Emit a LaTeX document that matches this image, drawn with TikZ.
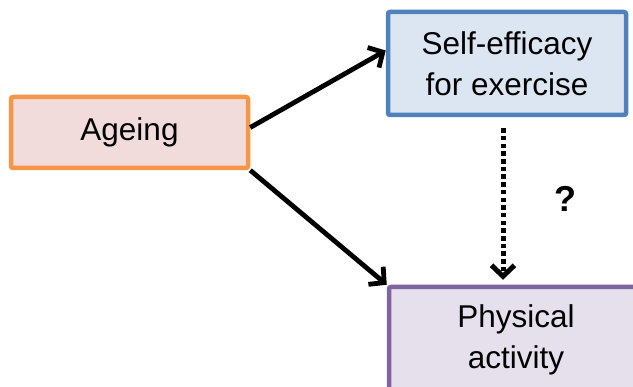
\documentclass[tikz,border=0pt]{standalone}
\usepackage{fontspec}
\setmainfont{Liberation Sans}
\usetikzlibrary{arrows.meta,calc}
\definecolor{agefill}{HTML}{F2DCDB}
\definecolor{ageline}{HTML}{F79646}
\definecolor{sefill}{HTML}{DCE6F2}
\definecolor{seline}{HTML}{4F81BD}
\definecolor{pafill}{HTML}{E5E0EC}
\definecolor{paline}{HTML}{8064A2}
\begin{document}
\begin{tikzpicture}[x=1pt,y=-1pt,
  box/.style={draw, line width=4.5pt, rounded corners=2pt, align=center,
    font=\fontsize{31.5}{41}\selectfont, inner sep=0pt},
  link/.style={line width=4.8pt, -{Straight Barb[length=11pt,width=23pt]}},
  dotlink/.style={link, line width=5pt, line cap=butt, dash pattern=on 4.5pt off 3.2pt},
]
\clip (0,0) rectangle (633,387);
\fill[white] (0,0) rectangle (633,387);

% the three factors
\node[box, fill=agefill, draw=ageline, minimum width=237pt, minimum height=71pt]
  (age) at (129.5,132.5) {Ageing};
\node[box, fill=sefill, draw=seline, minimum width=238pt, minimum height=103pt]
  (se) at (507,63.5) {Self-efficacy\\for exercise};
\node[box, fill=pafill, draw=paline, minimum width=254pt, minimum height=105pt]
  (pa) at (516,339.5) {Physical\\activity};

% relations
\draw[link] ([yshift=5pt]age.east) -- ([yshift=13pt]se.west);
\draw[link] (age.south east) -- (pa.north west);
\draw[dotlink] ($(se.south)+(-4,11)$) -- ($(se.south |- pa.north)+(-4,-5)$);

\node[font=\bfseries\fontsize{36}{36}\selectfont] (q) at (565,199) {?};
\end{tikzpicture}
\end{document}
